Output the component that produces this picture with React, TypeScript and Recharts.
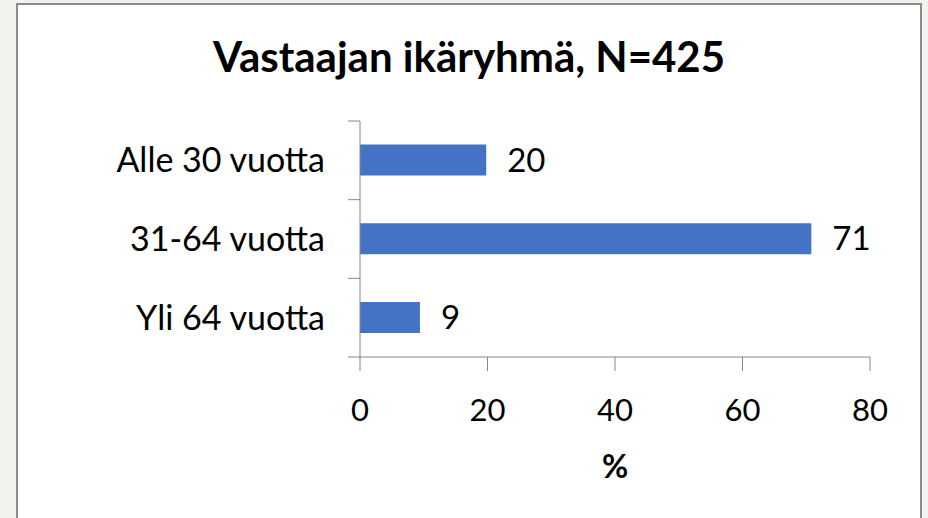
import { BarChart, Bar, XAxis, YAxis, LabelList, Label } from "recharts";

const categories = ["Alle 30 vuotta", "31-64 vuotta", "Yli 64 vuotta"];
const shares = [19.8, 70.8, 9.4];
const xTicks = [0, 20, 40, 60, 80];

const FONT = "Lato, 'Open Sans', sans-serif";
const AXIS = "#868686";
const TICK_MARGIN = 35;
const TICK_LEN = 12;

const data = categories.map((name, i) => ({ name, value: shares[i] }));

// category label plus Excel-style tick marks at the band edges
const CategoryTick = (props: any) => {
  const { x, y, payload, index, visibleTicksCount } = props;
  const half = payload?.offset ?? 236 / categories.length / 2;
  const ax = x + TICK_MARGIN;
  return (
    <g>
      <line x1={ax - TICK_LEN} x2={ax} y1={y - half} y2={y - half} stroke={AXIS} />
      {index === visibleTicksCount - 1 && (
        <line x1={ax - TICK_LEN} x2={ax} y1={y + half} y2={y + half} stroke={AXIS} />
      )}
      <text x={x} y={y} dy="0.35em" textAnchor="end" fill="#000" fontSize={34} fontFamily={FONT}>
        {payload.value}
      </text>
    </g>
  );
};

export default function App() {
  return (
    <div
      style={{
        position: "absolute",
        left: 0,
        top: 0,
        width: 928,
        height: 518,
        background: "#f2f1ec",
        overflow: "hidden",
        fontFamily: FONT,
      }}
    >
      <div
        style={{
          position: "absolute",
          left: 16,
          top: 3,
          width: 902,
          height: 530,
          background: "#fff",
          border: "2px solid #8c8c8c",
        }}
      />
      <div
        style={{
          position: "absolute",
          left: 16,
          top: 32,
          width: 906,
          textAlign: "center",
          fontSize: 42,
          fontWeight: 700,
          lineHeight: "48px",
          color: "#000",
        }}
      >
        Vastaajan ikäryhmä, N=425
      </div>
      <div style={{ position: "absolute", left: 0, top: 0 }}>
        <BarChart
          width={928}
          height={518}
          data={data}
          layout="vertical"
          margin={{ top: 121, right: 58, bottom: 0, left: 20 }}
          barCategoryGap="30%"
        >
          <XAxis
            type="number"
            domain={[0, 80]}
            ticks={xTicks}
            height={161}
            stroke={AXIS}
            tickSize={14}
            tickMargin={28}
            tick={{ fill: "#000", fontSize: 31, fontFamily: FONT }}
          >
            <Label
              value="%"
              position="insideBottom"
              offset={40}
              style={{ fill: "#000", fontSize: 32, fontWeight: 700, fontFamily: FONT }}
            />
          </XAxis>
          <YAxis
            type="category"
            dataKey="name"
            width={340}
            stroke={AXIS}
            tickLine={false}
            tickSize={0}
            tickMargin={TICK_MARGIN}
            tick={<CategoryTick />}
          />
          <Bar dataKey="value" fill="#4472C4" isAnimationActive={false}>
            <LabelList
              dataKey="value"
              position="right"
              offset={21}
              formatter={(v: number) => Math.round(v)}
              style={{ fill: "#000", fontSize: 33, fontFamily: FONT }}
            />
          </Bar>
        </BarChart>
      </div>
    </div>
  );
}
